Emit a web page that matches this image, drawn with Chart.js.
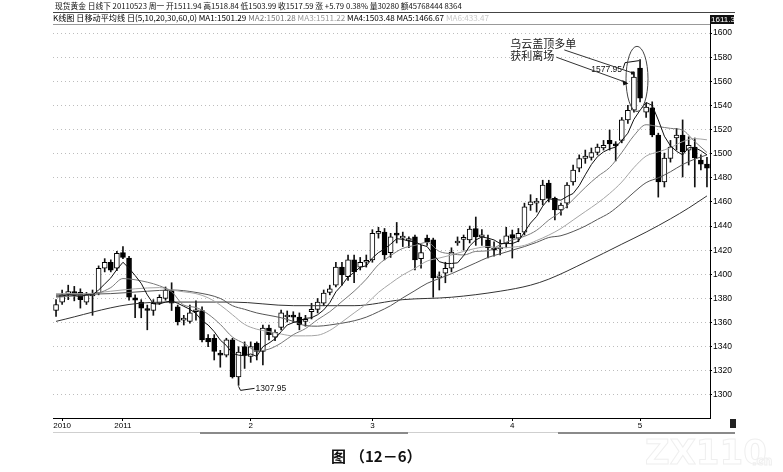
<!DOCTYPE html>
<html><head><meta charset="utf-8">
<script src="https://cdn.jsdelivr.net/npm/chart.js@4.4.1/dist/chart.umd.min.js"></script>
<style>html,body{margin:0;padding:0;background:#fff;}canvas{display:block;}</style>
</head><body>
<canvas id="c" width="783" height="472"></canvas>
<script>
// ---------- DATA ----------
const dates = [
'2010-12-17','2010-12-20','2010-12-21','2010-12-22','2010-12-23','2010-12-24','2010-12-27','2010-12-28','2010-12-29','2010-12-30','2010-12-31',
'2011-01-03','2011-01-04','2011-01-05','2011-01-06','2011-01-07','2011-01-10','2011-01-11','2011-01-12','2011-01-13','2011-01-14','2011-01-17','2011-01-18','2011-01-19','2011-01-20','2011-01-21','2011-01-24','2011-01-25','2011-01-26','2011-01-27','2011-01-28','2011-01-31',
'2011-02-01','2011-02-02','2011-02-03','2011-02-04','2011-02-07','2011-02-08','2011-02-09','2011-02-10','2011-02-11','2011-02-14','2011-02-15','2011-02-16','2011-02-17','2011-02-18','2011-02-21','2011-02-22','2011-02-23','2011-02-24','2011-02-25','2011-02-28',
'2011-03-01','2011-03-02','2011-03-03','2011-03-04','2011-03-07','2011-03-08','2011-03-09','2011-03-10','2011-03-11','2011-03-14','2011-03-15','2011-03-16','2011-03-17','2011-03-18','2011-03-21','2011-03-22','2011-03-23','2011-03-24','2011-03-25','2011-03-28','2011-03-29','2011-03-30','2011-03-31',
'2011-04-01','2011-04-04','2011-04-05','2011-04-06','2011-04-07','2011-04-08','2011-04-11','2011-04-12','2011-04-13','2011-04-14','2011-04-15','2011-04-18','2011-04-19','2011-04-20','2011-04-21','2011-04-22','2011-04-25','2011-04-26','2011-04-27','2011-04-28','2011-04-29',
'2011-05-02','2011-05-03','2011-05-04','2011-05-05','2011-05-06','2011-05-09','2011-05-10','2011-05-11','2011-05-12','2011-05-13','2011-05-16','2011-05-17'];

const opens = [1370,1377,1384,1385,1385,1377,1382,1384.5,1405,1410,1405,1418,1413.5,1380.5,1377,1371,1370,1376,1380,1387,
1373,1362,1361,1369,1370,1347,1347,1333.5,1333,1345.6,1315,1340,1332,1343,1336,1355.5,1348,1356,1364.6,1365,
1364.6,1361,1369,1371,1376,1385,1391,1406,1398,1412,1406,1410,1412,1434,1435,1418,1434,1430,1428,1431,
1413,1430,1428.5,1397,1401,1405,1426,1429,1428.5,1438,1431,1428.5,1421.8,1421,1426,1433,1430,1435,1457.5,1459,
1461.6,1475.7,1463,1453.3,1459,1476.5,1488,1496,1497,1501,1504.7,1511,1508,1511,1528,1536,1571,1534.5,1538,1515.5,
1476.5,1496,1513,1515.5,1503,1505.5,1494.7,1491.4];
const highs = [1379,1387,1391,1390,1388,1385,1387,1407,1413,1412,1419,1423,1415,1383,1379,1374.5,1379,1383,1389.5,1393,
1374.5,1366,1374.5,1378,1373,1350,1350,1337,1347,1347,1340,1344,1344,1344,1358,1358,1354,1370.4,1369.6,1369,
1368,1366,1376,1380,1387,1391,1410,1410,1416,1416,1414,1416,1437,1439,1438,1434,1443,1435,1431,1432.6,
1424,1432.6,1430,1402,1410,1422,1431,1432.6,1440,1447.5,1437,1432.6,1427,1428.5,1439,1436.7,1438,1459,1466,1463,
1478,1478,1464,1459,1476,1490.6,1499,1503,1504.7,1508,1511,1519.6,1510,1530,1540,1567.7,1577.95,1542,1543,1517,
1500.5,1511,1521,1528,1514,1513,1499,1497];
const lows = [1365,1375,1379,1378,1372,1375,1366,1383,1402,1402,1403,1413,1378.5,1364,1364,1354,1366,1375,1378.5,1370,
1358,1358,1359.5,1362,1344,1340,1329,1323,1331.5,1314,1307.95,1322,1327,1329,1325,1345.6,1345,1354,1360.5,1360,
1354,1357,1363,1368,1374,1383,1389.5,1391,1395,1393,1403.6,1406,1410,1430,1412,1414,1426,1423,1422,1403.6,
1405,1424,1381,1387,1393,1402,1424,1420,1426,1424,1424,1413.5,1415,1416,1422,1413.5,1427,1432.6,1453,1451.6,
1457.5,1460,1445,1449,1455,1474,1485,1492,1494.7,1499,1503,1503,1494,1509,1525,1534.5,1543,1530,1514,1464,
1472.4,1493,1503,1480.7,1490.6,1472.4,1486.5,1472.4];
const closes = [1375,1383,1385,1384,1379,1383,1383,1405,1410,1403.5,1417.5,1414,1381,1378.5,1372,1370,1376,1381,1387,1376,
1360.5,1362.5,1368,1370,1345.6,1344,1336,1333,1345.6,1315,1335.6,1333,1340,1336,1355.5,1350,1352,1368,1365,1364.5,
1358,1362,1371,1377,1384.5,1388,1406,1399.5,1412,1402,1410,1410.5,1434,1434.5,1416,1431,1432.5,1430.5,1429,1412,
1418,1427,1397,1398.6,1405,1418.5,1427.6,1429.5,1437.6,1431,1431.5,1422,1420,1422.6,1432,1430,1434,1456,1460,1459.5,
1474,1463,1453.3,1457.5,1474,1486.5,1496,1498,1501,1505.5,1507,1508,1506.5,1528,1536,1563.5,1546,1538.7,1515.5,1476.5,
1496.4,1505.5,1515.5,1501.4,1507,1496.4,1491.4,1488];

// MA1 (5-day), one value per candle
const ma5 = [1382,1382,1383,1382.5,1381.5,1383,1383,1387,1392,1397,
1404,1410,1405,1399,1392.5,1383,1375.5,1375.5,1377,1378,
1376,1373.5,1371,1367.5,1361.5,1358,1352.5,1345.5,1341,1334.5,
1333,1332.5,1334,1332,1340,1343,1346.5,1352.5,1358,1360,
1361.5,1363.5,1364,1366.5,1370.5,1376.5,1385.5,1391,1398,1401.5,
1406,1407,1413.5,1418,1421,1425,1429.5,1429,1427.5,1427,
1424.5,1423,1416.5,1410.5,1409,1409,1409.5,1415.5,1423.5,1428.5,
1431,1430,1428.5,1425.5,1425.5,1425.5,1427.5,1435,1442.5,1448,
1456.5,1462.5,1462,1461.5,1464.5,1467,1473.5,1482.5,1491,1497.5,
1501.5,1504,1505.5,1511,1517,1528.5,1536,1542.5,1540,1528,
1514.5,1506.5,1502,1499,1505,1505,1502.5,1499];
// MA2..MA5 read at [candle index, value]
const ma10Pts = [[0,1381],[3,1382],[5,1382.5],[7,1384.5],[9,1389],[11,1396.5],[13,1395.5],[15,1393.5],[17,1390.5],[19,1385.5],[21,1374.5],[23,1372.5],[25,1367],[27,1358.5],[29,1348],[31,1342.5],[33,1336.5],[35,1338],[37,1343],[39,1350],[41,1355],[43,1362.5],[45,1369],[47,1377.5],[49,1386],[51,1396],[53,1408],[55,1415.5],[57,1421.5],[59,1424],[61,1426.5],[63,1419],[65,1417],[67,1416],[69,1419],[71,1419.5],[73,1424.5],[75,1428.5],[77,1431.5],[79,1436.5],[81,1445],[83,1452],[85,1462],[87,1472],[89,1481],[91,1488.5],[93,1501],[95,1515],[97,1524],[99,1522.5],[101,1521],[103,1519.5],[105,1510],[107,1501]];
const ma20Pts = [[0,1384],[5,1384],[9,1386],[13,1388],[17,1389],[19,1387],[21,1385.5],[23,1384],[25,1380.5],[27,1374.5],[29,1366.5],[31,1358.5],[33,1354.5],[35,1352.5],[37,1350.5],[39,1349],[41,1349],[43,1349.5],[45,1353.5],[47,1360.5],[49,1368],[51,1375.5],[53,1385],[55,1392.5],[57,1399.5],[59,1405],[61,1411],[63,1413.5],[65,1416],[67,1419],[69,1421.5],[71,1423],[73,1422],[75,1422.5],[77,1424],[79,1428],[81,1432.5],[83,1438],[85,1445],[87,1452],[89,1459],[91,1467],[93,1476.5],[95,1488.5],[97,1498],[99,1501.5],[101,1505],[103,1510],[105,1512.5],[107,1511.5]];
const ma30Pts = [[0,1383],[9,1384],[15,1386],[19,1387],[23,1385],[27,1380],[29,1374],[31,1371],[33,1368],[35,1366],[37,1364],[39,1361],[41,1357.5],[43,1357],[45,1358],[47,1359.5],[49,1361.5],[51,1364.5],[53,1369],[55,1374],[57,1380.5],[59,1386.5],[61,1392.5],[63,1396.5],[65,1400.5],[67,1405],[69,1409.5],[71,1414],[73,1417],[75,1420],[77,1423],[79,1426.5],[81,1430.5],[83,1432],[85,1435.5],[87,1440],[89,1445.5],[91,1451],[93,1459],[95,1468],[97,1476],[99,1480],[101,1485],[103,1491],[105,1495.5],[107,1499]];
const ma60Pts = [[0,1361],[12,1375],[19,1377],[29,1377],[39,1374],[49,1374],[57,1379],[65,1381],[73,1386],[78,1391],[81,1396],[87,1410],[93,1425],[97,1435],[101,1446],[104,1455],[107,1465]];

const yTicks = [1300,1320,1340,1360,1380,1400,1420,1440,1460,1480,1500,1520,1540,1560,1580,1600];
const monthTickIdx = [1,11,32,52,75,96];
const monthTickText = ['2010','2011','2','3','4','5'];

const header1 = '现货黄金 日线下 20110523 周一 开1511.94 高1518.84 低1503.99 收1517.59 涨 +5.79 0.38% 量30280 额45768444 8364';
const header2 = [['K线图 日移动平均线 日(5,10,20,30,60,0) MA1:1501.29 ','#000'],['MA2:1501.28 ','#7a7a7a'],['MA3:1511.22 ','#9a9a9a'],['MA4:1503.48 ','#000'],['MA5:1466.67 ','#000'],['MA6:433.47','#c8c8c8']];
const topValue = '1611.3';
const lowIdx = 30, lowLabel = '1307.95';
const highIdx = 96, highLabel = '1577.95';
const noteLines = ['乌云盖顶多单','获利离场'];
const caption = ['图','（12－6）'];

// ---------- CHART ----------
const toPts = arr => arr.map(([i, v]) => ({x: dates[i], y: v}));
const wickData = dates.map((d, i) => [lows[i], highs[i]]);
const bodyData = dates.map((d, i) => [opens[i], closes[i]]);
const bodyFill = dates.map((d, i) => closes[i] >= opens[i] ? '#ffffff' : '#000000');

Chart.defaults.font.family = "'Liberation Sans', Arial, sans-serif";
const CJK = "'Noto Sans CJK SC', sans-serif";

function fitParts(ctx, parts, x, y, w, family) {
  ctx.font = '10px ' + family;
  let tw = 0; parts.forEach(p => tw += ctx.measureText(p[0]).width);
  const size = 10 * w / tw;
  ctx.font = size.toFixed(2) + 'px ' + family;
  let cx = x;
  parts.forEach(([t, c]) => { ctx.fillStyle = c; ctx.fillText(t, cx, y); cx += ctx.measureText(t).width; });
}

const deco = {
  id: 'deco',
  afterDraw(chart) {
    const {ctx, chartArea: a, scales: {x, y}} = chart;
    ctx.save();
    ctx.textBaseline = 'middle';
    // headers
    fitParts(ctx, [[header1, '#111']], a.left + 2, 6.5, 407, CJK);
    fitParts(ctx, header2, a.left, 18, 437, CJK);
    ctx.strokeStyle = '#444'; ctx.lineWidth = 1;
    ctx.beginPath(); ctx.moveTo(a.left, 12.5); ctx.lineTo(735, 12.5); ctx.stroke();
    ctx.strokeStyle = '#999';
    ctx.beginPath(); ctx.moveTo(a.left, a.top + 0.5); ctx.lineTo(a.right, a.top + 0.5); ctx.stroke();
    // top value box
    ctx.fillStyle = '#111'; ctx.fillRect(a.right, a.top - 9, 24, 9);
    ctx.fillStyle = '#fff'; ctx.font = '8px "Liberation Sans"'; ctx.textAlign = 'left';
    ctx.fillText(topValue, a.right + 1, a.top - 4.5);
    // low label
    ctx.strokeStyle = '#111'; ctx.fillStyle = '#111';
    let px = x.getPixelForValue(lowIdx), py = y.getPixelForValue(lows[lowIdx]);
    ctx.beginPath(); ctx.moveTo(px, py + 1); ctx.lineTo(px + 2, py + 5); ctx.lineTo(px + 16, py + 3); ctx.stroke();
    ctx.font = '8.5px "Liberation Sans"';
    ctx.fillText(lowLabel, px + 17, py + 3);
    // high label
    px = x.getPixelForValue(highIdx); py = y.getPixelForValue(highs[highIdx]);
    ctx.beginPath(); ctx.moveTo(px - 17, py + 9); ctx.lineTo(px - 15, py + 3); ctx.lineTo(px - 1, py + 1); ctx.stroke();
    ctx.textAlign = 'right';
    ctx.fillText(highLabel, px - 18, py + 10);
    // ellipse around peak
    const ex = (x.getPixelForValue(highIdx - 1) + x.getPixelForValue(highIdx)) / 2;
    const eyT = y.getPixelForValue(1589), eyB = y.getPixelForValue(1535);
    ctx.strokeStyle = '#444';
    ctx.beginPath(); ctx.ellipse(ex, (eyT + eyB) / 2, 11, (eyB - eyT) / 2, 0, 0, Math.PI * 2); ctx.stroke();
    // note text
    ctx.textAlign = 'left'; ctx.fillStyle = '#222';
    ctx.font = '11px ' + CJK;
    const tx = x.getPixelForValue(75) - 2;
    ctx.fillText(noteLines[0], tx, y.getPixelForValue(1591));
    ctx.fillText(noteLines[1], tx, y.getPixelForValue(1581));
    // arrows
    ctx.strokeStyle = '#333';
    const aEnd = {x: x.getPixelForValue(highIdx - 1) - 1, y: y.getPixelForValue(highs[highIdx - 1]) + 1};
    ctx.beginPath(); ctx.moveTo(tx + 54, y.getPixelForValue(1586)); ctx.lineTo(aEnd.x, aEnd.y); ctx.stroke();
    ctx.fillStyle = '#111'; ctx.fillRect(aEnd.x - 2, aEnd.y - 1.5, 3, 3);
    const bEnd = {x: x.getPixelForValue(highIdx - 2) - 1.5, y: y.getPixelForValue(1559)};
    ctx.beginPath(); ctx.moveTo(tx + 46, y.getPixelForValue(1580)); ctx.lineTo(bEnd.x, bEnd.y); ctx.stroke();
    ctx.beginPath(); ctx.moveTo(bEnd.x + 2, bEnd.y + 1); ctx.lineTo(bEnd.x - 4, bEnd.y - 2.5); ctx.lineTo(bEnd.x - 3, bEnd.y + 3); ctx.closePath(); ctx.fill();
    // scroll bar
    ctx.strokeStyle = '#cfcfcf'; ctx.lineWidth = 1;
    ctx.beginPath(); ctx.moveTo(a.left, 432.5); ctx.lineTo(735, 432.5); ctx.stroke();
    ctx.strokeStyle = '#8a8a8a'; ctx.lineWidth = 2;
    ctx.beginPath(); ctx.moveTo(200, 433); ctx.lineTo(408, 433); ctx.moveTo(558, 433); ctx.lineTo(735, 433); ctx.stroke();
    ctx.fillStyle = '#222'; ctx.fillRect(730, a.bottom + 1, 6, 9);
    // caption
    ctx.fillStyle = '#111'; ctx.font = 'bold 15px ' + CJK;
    ctx.fillText(caption[0], 331, 456);
    ctx.fillText(caption[1], 350, 456);
    // faint watermark
    ctx.strokeStyle = '#efefef'; ctx.lineWidth = 1;
    ctx.font = 'bold 34px "DejaVu Sans"';
    ctx.strokeText('ZX110', 645, 455);
    ctx.font = 'bold 12px "DejaVu Sans"';
    ctx.strokeText('.cn', 752, 462);
    ctx.restore();
  }
};

new Chart(document.getElementById('c').getContext('2d'), {
  type: 'bar',
  data: {
    labels: dates,
    datasets: [
      {type: 'line', label: 'MA1', data: ma5, borderColor: '#111', borderWidth: 1, pointRadius: 0, tension: 0, order: -5},
      {type: 'line', label: 'MA2', data: toPts(ma10Pts), borderColor: '#7a7a7a', borderWidth: 1, pointRadius: 0, cubicInterpolationMode: 'monotone', order: -4},
      {type: 'line', label: 'MA3', data: toPts(ma20Pts), borderColor: '#a5a5a5', borderWidth: 1, pointRadius: 0, cubicInterpolationMode: 'monotone', order: -3},
      {type: 'line', label: 'MA4', data: toPts(ma30Pts), borderColor: '#555', borderWidth: 1, pointRadius: 0, cubicInterpolationMode: 'monotone', order: -2},
      {type: 'line', label: 'MA5', data: toPts(ma60Pts), borderColor: '#333', borderWidth: 1, pointRadius: 0, cubicInterpolationMode: 'monotone', order: -1},
      {label: 'body', data: bodyData, backgroundColor: bodyFill, borderColor: '#000', borderWidth: 1, borderSkipped: false, barThickness: 5, minBarLength: 2, grouped: false, order: 1},
      {label: 'wick', data: wickData, backgroundColor: '#111', barThickness: 1, grouped: false, order: 2}
    ]
  },
  options: {
    responsive: false, animation: false, devicePixelRatio: 1,
    layout: {padding: {left: 53, top: 24, right: 0, bottom: 40}},
    plugins: {legend: {display: false}, tooltip: {enabled: false}},
    scales: {
      x: {
        type: 'category', offset: true,
        grid: {display: true, offset: false, drawOnChartArea: false, tickLength: 3,
               color: c => monthTickIdx.includes(c.index) ? '#000' : 'rgba(0,0,0,0)'},
        border: {display: true, color: '#000', width: 1},
        ticks: {autoSkip: false, maxRotation: 0, minRotation: 0, padding: 0, color: '#000', font: {size: 8},
                callback: (v, i) => { const k = monthTickIdx.indexOf(i); return k >= 0 ? monthTickText[k] : ''; }},
        afterFit: s => { s.height = 14; }
      },
      y: {
        position: 'right', min: 1280.9, max: 1607.5,
        afterBuildTicks: s => { s.ticks = yTicks.map(v => ({value: v})); },
        grid: {color: '#bdbdbd', lineWidth: 1, tickLength: 2, tickColor: '#000'},
        border: {display: true, color: '#000', width: 1, dash: [1, 3]},
        ticks: {padding: 1, color: '#000', font: {size: 8.5}, callback: v => String(v)},
        afterFit: s => { s.width = 73; }
      }
    }
  },
  plugins: [deco]
});
</script>
</body></html>
